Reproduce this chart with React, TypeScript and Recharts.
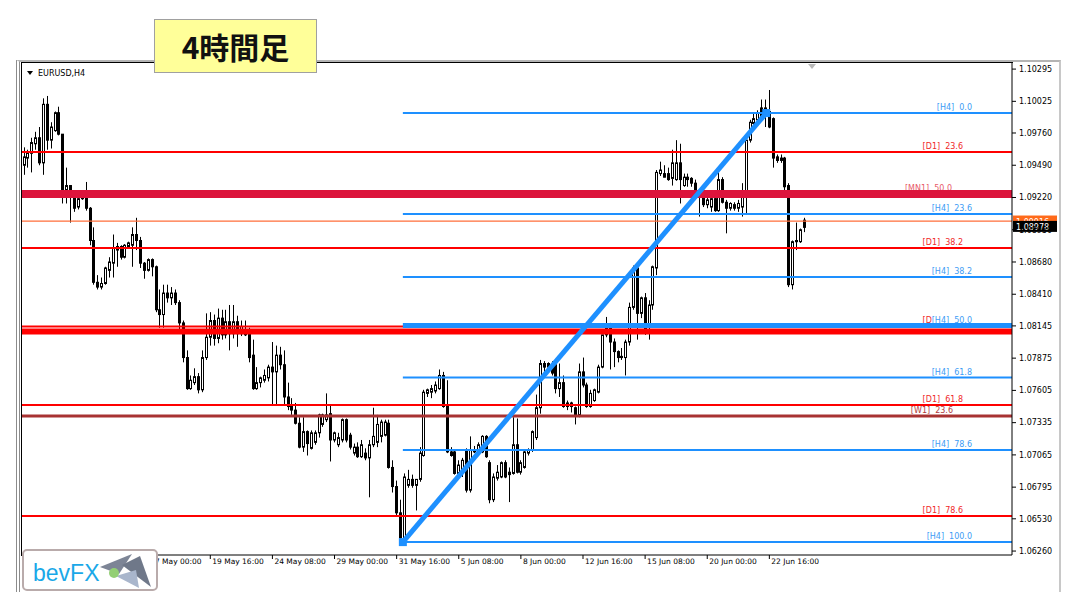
import React from "react";
import { Bar, ComposedChart, ReferenceDot, ReferenceLine, XAxis, YAxis } from "recharts";

// EURUSD H4 candles (oldest first)
const opens = [
  1.0949, 1.0955, 1.0959, 1.0967, 1.0972, 1.0951, 1.1, 1.097, 1.0978, 1.0993,
  1.0975, 1.0928, 1.0932, 1.0924, 1.0914, 1.0921, 1.0926, 1.0913, 1.0886, 1.0851,
  1.0847, 1.085, 1.0861, 1.0867, 1.0878, 1.0881, 1.0872, 1.0881, 1.0882, 1.0891,
  1.0886, 1.0867, 1.0861, 1.087, 1.0864, 1.0828, 1.0824, 1.0842, 1.0838, 1.0842,
  1.0834, 1.0817, 1.0788, 1.0762, 1.0767, 1.0772, 1.0761, 1.0788, 1.0805, 1.0819,
  1.0804, 1.0821, 1.0807, 1.0818, 1.0808, 1.0818, 1.0808, 1.0807, 1.0811, 1.079,
  1.0762, 1.0767, 1.0769, 1.0771, 1.078, 1.0776, 1.079, 1.0782, 1.0755, 1.0748,
  1.0744, 1.0733, 1.0713, 1.0726, 1.0712, 1.0717, 1.0725, 1.0732, 1.0736, 1.0741,
  1.0719, 1.0715, 1.0719, 1.0736, 1.0723, 1.0708, 1.0713, 1.0705, 1.0708, 1.0704,
  1.0715, 1.0717, 1.0722, 1.0723, 1.0733, 1.0696, 1.068, 1.0658, 1.0637, 1.0681,
  1.0686, 1.0681, 1.0686, 1.0706, 1.0758, 1.0759, 1.076, 1.0762, 1.0773, 1.0747,
  1.0709, 1.0709, 1.0691, 1.0694, 1.0711, 1.0677, 1.0709, 1.0708, 1.0709, 1.0722,
  1.07, 1.0669, 1.0687, 1.0688, 1.07, 1.0692, 1.0691, 1.0715, 1.0692, 1.0696,
  1.0708, 1.0711, 1.0721, 1.0746, 1.0783, 1.0783, 1.0782, 1.0782, 1.0762, 1.0767,
  1.0747, 1.075, 1.0746, 1.074, 1.0776, 1.0765, 1.0747, 1.0752, 1.0759, 1.078,
  1.0807, 1.0813, 1.0801, 1.0793, 1.0789, 1.0788, 1.0801, 1.083, 1.0863, 1.0825,
  1.0838, 1.0814, 1.0832, 1.0863, 1.0942, 1.0942, 1.0942, 1.0938, 1.0937, 1.0951,
  1.0932, 1.0939, 1.0938, 1.0934, 1.0927, 1.0926, 1.0916, 1.0914, 1.0921, 1.0911,
  1.0937, 1.0918, 1.0913, 1.0916, 1.0913, 1.0914, 1.0924, 1.097, 1.0984, 1.0987,
  1.0997, 1.0991, 1.0994, 1.0988, 1.0956, 1.0953, 1.0955, 1.0932, 1.0849, 1.0886,
  1.0885, 1.0903,
];
const highs = [
  1.0964, 1.0962, 1.0972, 1.0977, 1.0981, 1.1005, 1.1007, 1.0985, 1.0994, 1.0998,
  1.0975, 1.0947, 1.0932, 1.0926, 1.0923, 1.0927, 1.0935, 1.0914, 1.0897, 1.0857,
  1.0855, 1.0864, 1.0872, 1.0891, 1.0884, 1.0882, 1.0883, 1.0885, 1.0897, 1.0905,
  1.0889, 1.0868, 1.0871, 1.0871, 1.0865, 1.0845, 1.0849, 1.0849, 1.0847, 1.0845,
  1.0836, 1.0819, 1.0794, 1.0773, 1.0779, 1.0775, 1.0794, 1.0825, 1.0826, 1.0824,
  1.0829, 1.0828, 1.0828, 1.0832, 1.0832, 1.0823, 1.0819, 1.0819, 1.0813, 1.0803,
  1.078, 1.0772, 1.0778, 1.0782, 1.0801, 1.0798, 1.0797, 1.0794, 1.0767, 1.0754,
  1.075, 1.0738, 1.0738, 1.0727, 1.0727, 1.0727, 1.0741, 1.0741, 1.0758, 1.0748,
  1.0726, 1.0725, 1.0737, 1.0737, 1.0725, 1.0716, 1.0717, 1.0719, 1.0712, 1.0719,
  1.0746, 1.074, 1.0736, 1.0736, 1.0736, 1.0702, 1.0685, 1.0669, 1.0691, 1.0694,
  1.069, 1.0686, 1.0713, 1.0761, 1.0762, 1.0765, 1.0768, 1.0778, 1.0776, 1.0769,
  1.0713, 1.0711, 1.0702, 1.0704, 1.0712, 1.0722, 1.0714, 1.0717, 1.0723, 1.0723,
  1.0702, 1.0691, 1.0698, 1.0701, 1.0702, 1.0696, 1.0738, 1.0737, 1.0702, 1.0711,
  1.0712, 1.0727, 1.0757, 1.0786, 1.0785, 1.0784, 1.0785, 1.0783, 1.0783, 1.0773,
  1.0752, 1.0751, 1.0747, 1.0783, 1.0788, 1.0767, 1.0761, 1.0762, 1.0782, 1.0807,
  1.0822, 1.0817, 1.0804, 1.0794, 1.0796, 1.0803, 1.0834, 1.0865, 1.0865, 1.0839,
  1.0842, 1.0836, 1.0865, 1.0945, 1.0952, 1.0949, 1.0947, 1.0962, 1.097, 1.0967,
  1.0942, 1.0942, 1.0939, 1.0937, 1.0928, 1.0927, 1.0922, 1.0926, 1.0922, 1.0947,
  1.0939, 1.092, 1.0918, 1.0918, 1.092, 1.0934, 1.097, 1.0987, 1.0993, 1.0995,
  1.1004, 1.1004, 1.1012, 1.0989, 1.0958, 1.0958, 1.0956, 1.0934, 1.0886, 1.0901,
  1.0896, 1.0905,
];
const lows = [
  1.0941, 1.0947, 1.0943, 1.0962, 1.0949, 1.0941, 1.0962, 1.0963, 1.0977, 1.0974,
  1.0917, 1.0917, 1.0901, 1.091, 1.0912, 1.092, 1.0911, 1.0882, 1.0849, 1.0845,
  1.0845, 1.0849, 1.0855, 1.0855, 1.0864, 1.087, 1.0871, 1.088, 1.0864, 1.0878,
  1.0863, 1.0854, 1.086, 1.0856, 1.0826, 1.0813, 1.0813, 1.0834, 1.0832, 1.0832,
  1.0808, 1.0784, 1.0761, 1.0761, 1.0765, 1.0758, 1.0759, 1.0786, 1.0798, 1.0798,
  1.08, 1.0803, 1.0804, 1.0794, 1.0804, 1.0797, 1.0806, 1.0806, 1.0784, 1.0761,
  1.0761, 1.0763, 1.0767, 1.0768, 1.0748, 1.0748, 1.0778, 1.0748, 1.0744, 1.074,
  1.0732, 1.0712, 1.0709, 1.0706, 1.0711, 1.0715, 1.0721, 1.073, 1.0734, 1.0701,
  1.0717, 1.0713, 1.0717, 1.0717, 1.0711, 1.0706, 1.0704, 1.0704, 1.0702, 1.0671,
  1.0713, 1.0713, 1.0717, 1.0722, 1.0695, 1.0675, 1.0656, 1.0634, 1.0634, 1.0679,
  1.0679, 1.066, 1.0684, 1.0705, 1.0755, 1.0754, 1.0758, 1.0761, 1.0746, 1.0708,
  1.0705, 1.069, 1.069, 1.0688, 1.0675, 1.0675, 1.0708, 1.0706, 1.0708, 1.0704,
  1.0666, 1.0667, 1.0685, 1.0687, 1.0687, 1.0667, 1.069, 1.0691, 1.069, 1.0695,
  1.0706, 1.0709, 1.0719, 1.0741, 1.0776, 1.0778, 1.0773, 1.0758, 1.0755, 1.0746,
  1.0744, 1.0742, 1.0732, 1.0738, 1.0763, 1.0746, 1.0746, 1.0751, 1.0758, 1.0779,
  1.0805, 1.0778, 1.078, 1.0784, 1.0786, 1.0773, 1.0798, 1.0828, 1.0803, 1.0821,
  1.0807, 1.0803, 1.0828, 1.0857, 1.094, 1.0939, 1.0936, 1.0932, 1.0936, 1.0917,
  1.0931, 1.0931, 1.0931, 1.0922, 1.0906, 1.0914, 1.0913, 1.091, 1.091, 1.091,
  1.0917, 1.0892, 1.0911, 1.0911, 1.091, 1.0906, 1.0909, 1.0968, 1.0983, 1.0985,
  1.0988, 1.0981, 1.098, 1.0947, 1.0951, 1.0951, 1.0928, 1.0847, 1.0845, 1.0878,
  1.0884, 1.0893,
];
const closes = [
  1.0956, 1.0959, 1.0968, 1.0972, 1.0951, 1.1, 1.097, 1.0981, 1.0993, 1.0975,
  1.0928, 1.0932, 1.0924, 1.0913, 1.0921, 1.0926, 1.0913, 1.0886, 1.0851, 1.0847,
  1.085, 1.0863, 1.0868, 1.088, 1.0881, 1.0872, 1.0882, 1.0884, 1.0891, 1.0886,
  1.0867, 1.0861, 1.087, 1.0864, 1.0828, 1.0824, 1.0842, 1.0838, 1.0842, 1.0834,
  1.0817, 1.0788, 1.0762, 1.0769, 1.0772, 1.0761, 1.0788, 1.0805, 1.0819, 1.0804,
  1.0821, 1.0807, 1.0818, 1.0808, 1.0818, 1.0808, 1.0814, 1.0811, 1.0788, 1.0762,
  1.0767, 1.0771, 1.0773, 1.078, 1.0776, 1.079, 1.0782, 1.0755, 1.0747, 1.0744,
  1.0733, 1.0713, 1.0726, 1.0716, 1.0725, 1.0725, 1.074, 1.074, 1.074, 1.0719,
  1.0725, 1.0721, 1.0736, 1.0719, 1.0713, 1.0713, 1.0705, 1.0715, 1.0704, 1.0715,
  1.0722, 1.0732, 1.0734, 1.0734, 1.0696, 1.068, 1.0658, 1.0637, 1.0688, 1.0686,
  1.0681, 1.0686, 1.0708, 1.0759, 1.0761, 1.0762, 1.0765, 1.0773, 1.0747, 1.0709,
  1.0706, 1.0691, 1.0698, 1.0702, 1.0677, 1.0711, 1.0711, 1.0715, 1.0722, 1.0705,
  1.0669, 1.0688, 1.0692, 1.07, 1.0688, 1.069, 1.0715, 1.0692, 1.07, 1.0709,
  1.0711, 1.0726, 1.0746, 1.0783, 1.078, 1.078, 1.0775, 1.0762, 1.0767, 1.0747,
  1.075, 1.0747, 1.074, 1.0776, 1.0765, 1.0747, 1.0758, 1.0761, 1.078, 1.0807,
  1.0813, 1.0801, 1.0793, 1.0788, 1.0788, 1.0801, 1.083, 1.0863, 1.0825, 1.0838,
  1.0809, 1.0832, 1.0864, 1.0943, 1.0945, 1.0939, 1.0937, 1.0951, 1.0951, 1.0937,
  1.0939, 1.0937, 1.0934, 1.0927, 1.0924, 1.0916, 1.092, 1.0921, 1.0911, 1.0937,
  1.0918, 1.0913, 1.0917, 1.0913, 1.0917, 1.0924, 1.097, 1.0985, 1.0988, 1.0993,
  1.0988, 1.0997, 1.0981, 1.0955, 1.0953, 1.0955, 1.0931, 1.0849, 1.0885, 1.0885,
  1.0895, 1.0897,
];

const timeTicks = [32, 48, 64, 80, 96, 112, 128, 144, 160, 176, 192];
const timeLabels = [
  "17 May 00:00", "19 May 16:00", "24 May 08:00", "29 May 00:00", "31 May 16:00",
  "5 Jun 08:00", "8 Jun 00:00", "12 Jun 16:00", "15 Jun 08:00", "20 Jun 00:00", "22 Jun 16:00",
];
const priceTicks = [
  1.10295, 1.10025, 1.0976, 1.0949, 1.0922, 1.0895, 1.0868, 1.0841,
  1.08145, 1.07875, 1.07605, 1.07335, 1.07065, 1.06795, 1.0653, 1.0626,
];

// Fibonacci levels drawn on the chart
const levelLabels = [
  "[H4]  0.0", "[D1]  23.6", "[MN1]  50.0", "[H4]  23.6", "[D1]  38.2", "[H4]  38.2", "[D1]  50.0",
  "[H4]  50.0", "[H4]  61.8", "[D1]  61.8", "[W1]  23.6", "[H4]  78.6", "[D1]  78.6", "[H4]  100.0",
];
const levelPrices = [
  1.09927, 1.096, 1.09249, 1.09081, 1.08797, 1.08554, 1.0814,
  1.08148, 1.07713, 1.07482, 1.0739, 1.07106, 1.06553, 1.06335,
];
const bandPrice = 1.08099; // unlabeled thick red level
const trendStart = { i: 97.6, price: 1.06335 };
const trendEnd = { i: 191.2, price: 1.09927 };
const askPrice = 1.09023;
const bidPrice = 1.08978;

const candles = opens.map((o, i) => ({
  i,
  o,
  h: highs[i],
  l: lows[i],
  c: closes[i],
  range: [lows[i], highs[i]],
}));

const FONT = "'DejaVu Sans', Tahoma, sans-serif";
const kindStyle: Record<string, { line: string; text: string; width: number; gap: number }> = {
  H4: { line: "#1E90FF", text: "#3D9CF5", width: 2, gap: 40 },
  D1: { line: "#FF0000", text: "#F02828", width: 2, gap: 49 },
  MN1: { line: "#DC143C", text: "#E85A6A", width: 8, gap: 60 },
  W1: { line: "#A83232", text: "#B03A3A", width: 3, gap: 59 },
};
const kindOf = (label: string) => label.slice(1, label.indexOf("]"));
const THICK_H4 = "[H4]  50.0";

function Candle(props: any) {
  const { x, y, width, height, payload } = props;
  if (!payload || x == null || y == null) return null;
  const { o, h, l, c } = payload;
  const top = Math.min(y, y + height);
  const span = Math.abs(height);
  const py = (v: number) => (h === l ? top : top + ((h - v) / (h - l)) * span);
  const cx = Math.round(x + width / 2) + 0.5;
  const yO = py(o);
  const yC = py(c);
  const bull = c >= o;
  const bTop = Math.min(yO, yC);
  const bH = Math.max(Math.abs(yC - yO), 1);
  return (
    <g>
      <line x1={cx} x2={cx} y1={top} y2={top + span} stroke="#000" strokeWidth={1} />
      <rect x={cx - 1} y={bTop} width={2} height={bH} fill={bull ? "#fff" : "#000"} stroke="#000" strokeWidth={1} />
    </g>
  );
}

function TimeTick(props: any) {
  const { x, y, payload } = props;
  const label = timeLabels[timeTicks.indexOf(payload.value)];
  return (
    <text x={x + 2} y={y} dy="0.71em" fontSize={7.5} fontFamily={FONT} fill="#000">
      {label}
    </text>
  );
}

function LevelText(props: any) {
  const { viewBox, text, color, gap, masked } = props;
  if (!viewBox) return null;
  const right = viewBox.x + viewBox.width - gap;
  return (
    <g>
      {masked && <rect x={right - 40} y={viewBox.y - 11} width={41} height={9} fill="#fff" />}
      <text x={right} y={viewBox.y - 3} textAnchor="end" fontSize={8} fontFamily={FONT} fill={color}>
        {text.replace(/ /g, "\u00a0")}
      </text>
    </g>
  );
}

function PriceTag(props: any) {
  const { viewBox, text, bg } = props;
  if (!viewBox) return null;
  const x = viewBox.x + viewBox.width + 1;
  return (
    <g>
      <rect x={x} y={viewBox.y - 5.5} width={44} height={11} fill={bg} />
      <text x={x + 3} y={viewBox.y + 3.5} fontSize={8} fontFamily={FONT} fill="#fff">
        {text}
      </text>
    </g>
  );
}

const Square = (p: any) => <rect x={p.cx - 4} y={p.cy - 4} width={8} height={8} fill="#1E90FF" />;

export default function App() {
  return (
    <div style={{ position: "absolute", left: 0, top: 0, width: 1069, height: 601, background: "#fff", overflow: "hidden" }}>
      {/* window frame */}
      <div
        style={{
          position: "absolute", left: 16, top: 60, width: 1045, height: 532, boxSizing: "border-box",
          borderTop: "2px solid #b4b4b4", borderLeft: "4px double #8c8c8c", borderRight: "2px solid #c8c8c8",
        }}
      />
      <div
        style={{
          position: "absolute", left: 21, top: 62, width: 992, height: 494, boxSizing: "border-box",
          borderTop: "1px solid #000", borderLeft: "1px solid #000",
        }}
      />
      <div style={{ position: "absolute", left: 0, top: 0 }}>
        <ComposedChart width={1069} height={601} data={candles} margin={{ top: 63, right: 0, bottom: 0, left: 22 }}>
          <XAxis
            dataKey="i"
            type="number"
            domain={[-0.5, 254.5]}
            allowDataOverflow
            ticks={timeTicks}
            tick={<TimeTick />}
            tickSize={4}
            tickMargin={0}
            height={46}
            stroke="#000"
            tickLine={{ stroke: "#000" }}
          />
          <YAxis
            orientation="right"
            type="number"
            domain={[1.06227, 1.10346]}
            allowDataOverflow
            ticks={priceTicks}
            tickFormatter={(v: number) => v.toFixed(5)}
            tick={{ fontSize: 8, fill: "#000", fontFamily: FONT }}
            tickSize={4}
            tickMargin={3}
            width={57}
            stroke="#000"
            tickLine={{ stroke: "#000" }}
          />
          {levelLabels.map((lab, k) => {
            const st = kindStyle[kindOf(lab)];
            return (
              <ReferenceLine
                key={"t" + k}
                y={levelPrices[k]}
                stroke="none"
                label={<LevelText text={lab} color={st.text} gap={st.gap} masked={lab === THICK_H4} />}
              />
            );
          })}
          <ReferenceLine y={bandPrice} stroke="#FF0000" strokeWidth={6} />
          {levelLabels.map((lab, k) => {
            const kind = kindOf(lab);
            const st = kindStyle[kind];
            const w = lab === THICK_H4 ? 5 : st.width;
            if (kind === "H4") {
              return (
                <ReferenceLine
                  key={"l" + k}
                  segment={[
                    { x: trendStart.i, y: levelPrices[k] },
                    { x: 254.5, y: levelPrices[k] },
                  ]}
                  stroke={st.line}
                  strokeWidth={w}
                />
              );
            }
            return <ReferenceLine key={"l" + k} y={levelPrices[k]} stroke={st.line} strokeWidth={w} />;
          })}
          <ReferenceLine y={askPrice} stroke="#FF6E3A" strokeWidth={1.3} />
          <Bar dataKey="range" barSize={3} isAnimationActive={false} shape={<Candle />} />
          <ReferenceLine
            segment={[
              { x: trendStart.i, y: trendStart.price },
              { x: trendEnd.i, y: trendEnd.price },
            ]}
            stroke="#1E90FF"
            strokeWidth={5}
          />
          <ReferenceDot x={trendStart.i} y={trendStart.price} shape={Square} />
          <ReferenceDot x={trendEnd.i} y={trendEnd.price} shape={Square} />
          <ReferenceLine y={askPrice} stroke="none" label={<PriceTag text="1.09016" bg="#FF6A1A" />} />
          <ReferenceLine y={bidPrice} stroke="none" label={<PriceTag text="1.08978" bg="#000" />} />
        </ComposedChart>
      </div>
      {/* symbol caption */}
      <svg style={{ position: "absolute", left: 26, top: 68 }} width={80} height={12}>
        <polygon points="1,3 7,3 4,7" fill="#000" />
        <text x={12} y={8} fontSize={8} fontFamily={FONT} fill="#000">
          EURUSD,H4
        </text>
      </svg>
      <svg style={{ position: "absolute", left: 806, top: 63 }} width={12} height={8}>
        <polygon points="2,1 10,1 6,6" fill="#b8b8b8" />
      </svg>
      {/* title box */}
      <div
        style={{
          position: "absolute", left: 154, top: 19, width: 163, height: 54, boxSizing: "border-box",
          background: "#FFFF99", border: "1px solid #a0a0a0", display: "flex", alignItems: "center",
          justifyContent: "center", fontFamily: "'Noto Sans CJK JP', sans-serif", fontSize: 30,
          fontWeight: 700, color: "#111",
        }}
      >
        4時間足
      </div>
      {/* logo */}
      <div
        style={{
          position: "absolute", left: 22, top: 549, width: 136, height: 42, boxSizing: "border-box",
          border: "2px solid #b9abab", borderRadius: 5, background: "#fff",
        }}
      >
        <span
          style={{
            position: "absolute", left: 9, top: 9, fontSize: 23, lineHeight: "26px",
            fontFamily: "'Liberation Sans', Arial, sans-serif", color: "#1AA8E8",
          }}
        >
          bevFX
        </span>
        <svg style={{ position: "absolute", left: 0, top: 0 }} width={132} height={38}>
          <polygon points="76,16 108,3 95,23" fill="#7d8596" />
          <polygon points="98,14 116,5 127,36" fill="#6f7889" />
          <polygon points="92,25 112,19 115,37" fill="#a9b6cc" />
          <circle cx={90} cy={22} r={5} fill="#93cf74" />
        </svg>
      </div>
    </div>
  );
}
